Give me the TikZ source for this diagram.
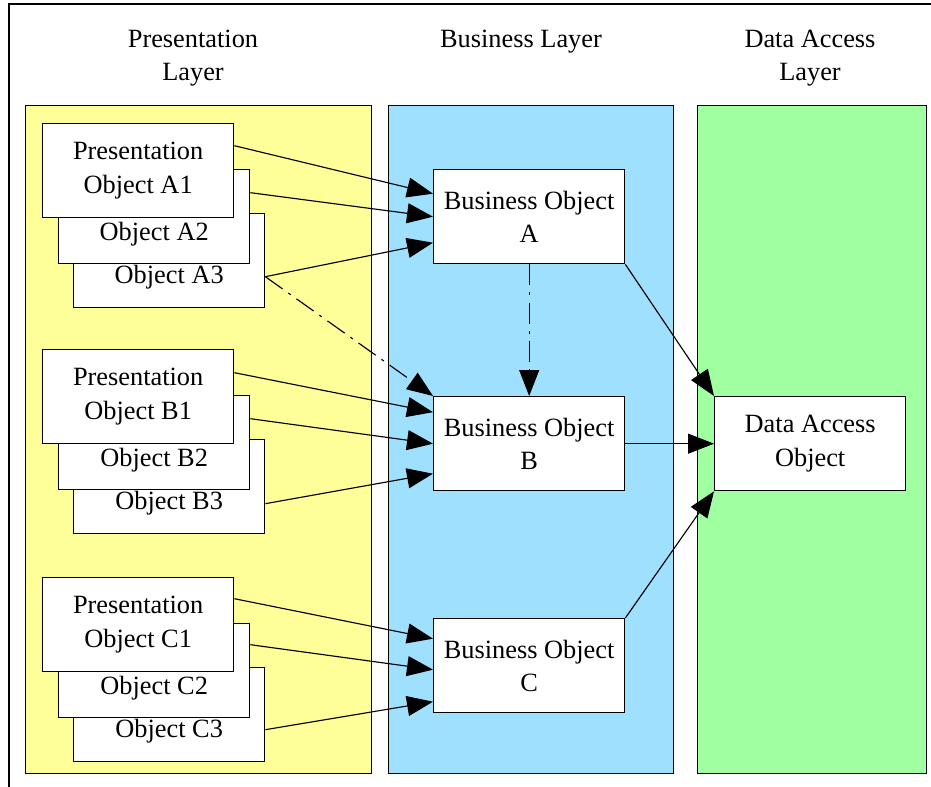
\documentclass[tikz,border=0pt]{standalone}
\usepackage{fontspec}
\setmainfont{Liberation Serif}
\usepackage{xcolor}
\definecolor{presyellow}{RGB}{255,255,153}
\definecolor{busblue}{RGB}{160,224,255}
\definecolor{datagreen}{RGB}{160,255,160}
\usepackage{tikz}
\usetikzlibrary{arrows.meta,positioning}

\tikzset{
    layer/.style={draw,line width=0.8pt,inner sep=0pt,anchor=north west},
    obj/.style={draw,fill=white,line width=0.8pt,inner sep=0pt,align=center,
        minimum width=3.82cm,minimum height=1.88cm},
    conn/.style={-{Triangle[length=0.52cm,width=0.4cm]},line width=0.65pt},
    dashdot/.style={dash pattern=on 12pt off 4pt on 1.7pt off 4pt}
}

\begin{document}
\begin{tikzpicture}[x=0.02cm,y=-0.02cm,font=\fontsize{15}{19}\selectfont]
    \useasboundingbox (0,0) rectangle (931,787);
    \draw[line width=0.9pt] (9,787) -- (9,4) -- (931,4);

    \node[layer,fill=presyellow,minimum width=6.92cm,minimum height=13.36cm] (pres) at (25,105) {};
    \node[layer,fill=busblue,minimum width=5.7cm,minimum height=13.36cm] (bus) at (388,105) {};
    \node[layer,fill=datagreen,minimum width=4.58cm,minimum height=13.36cm] (data) at (697,105) {};

    \node[align=center] (presT) at (193,58) {Presentation\\Layer};
    \node (busT) at (521,42) {Business Layer};
    \node[align=center] (dataT) at (810,58) {Data Access\\Layer};

    % presentation objects
    \foreach \g/\y in {A/0,B/226,C/454} {
        \node[obj,anchor=north west,label={[yshift=-0.32cm]center:Object \g3}] (\g3) at (73,213+\y) {};
        \node[obj,anchor=north west,label={[yshift=-0.34cm]center:Object \g2}] (\g2) at (58,169+\y) {};
        \node[obj,anchor=north west] (\g1) at (42,123+\y) {Presentation\\Object \g1};
    }

    % business and data access objects
    \node[obj,anchor=north west] (BA) at (433,169) {Business Object\\A};
    \node[obj,anchor=north west] (BB) at (433,396) {Business Object\\B};
    \node[obj,anchor=north west] (BC) at (433,618) {Business Object\\C};
    \node[obj,anchor=north west] (DAO) at (714,396) {Data Access\\Object};

    \path[conn] ([yshift=0.5cm]A1.east) edge ([yshift=0.46cm]BA.west)
                ([yshift=0.48cm]A2.east) edge (BA.west)
                ([yshift=-0.32cm]A3.east) edge ([yshift=-0.52cm]BA.west)
                ([yshift=-0.32cm]A3.east) edge[dashdot] (BB.north west)
                (BA.south) edge[dashdot] (BB.north)
                ([yshift=0.48cm]B1.east) edge ([yshift=0.63cm]BB.west)
                ([yshift=0.48cm]B2.east) edge (BB.west)
                ([yshift=-0.34cm]B3.east) edge ([yshift=-0.6cm]BB.west)
                ([yshift=0.52cm]C1.east) edge ([yshift=0.54cm]BC.west)
                ([yshift=0.52cm]C2.east) edge ([yshift=-0.08cm]BC.west)
                ([yshift=-0.3cm]C3.east) edge ([yshift=-0.72cm]BC.west)
                (BA.south east) edge (DAO.north west)
                (BB.east) edge (DAO.west)
                (BC.north east) edge (DAO.south west);
\end{tikzpicture}
\end{document}
